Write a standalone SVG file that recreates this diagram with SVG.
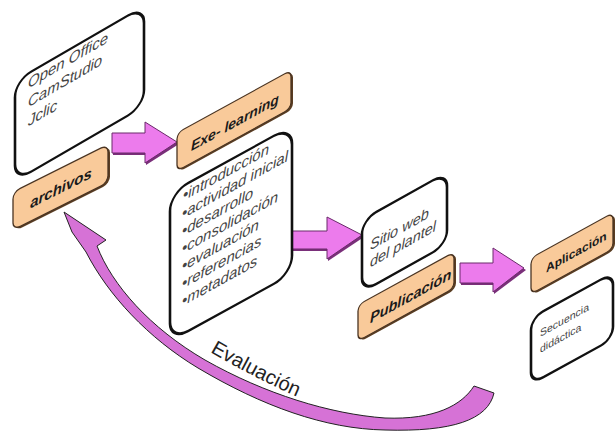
<svg xmlns="http://www.w3.org/2000/svg" width="615" height="441" viewBox="0 0 615 441">
<style>
.wbox{fill:#fff;stroke:#111;stroke-width:2.6}
.obox{fill:#F9CA9A;stroke:#4a3422;stroke-width:1.3}
.oshadow{fill:#5a3d22}
.gt{font-family:"Liberation Sans",Arial,sans-serif;font-style:italic;fill:#444}
.lt{font-family:"Liberation Sans",Arial,sans-serif;font-style:italic;font-weight:bold;fill:#1a1a1a}
.arrow{fill:#EC7BEC;stroke:#6a2a6a;stroke-width:1}
.ashadow{fill:#7a2f7a}
</style>
<defs>
<clipPath id="cbClip"><rect x="0" y="0" width="122" height="148" rx="18"/></clipPath>
</defs>

<g id="connectors">
<polygon class="ashadow" points="113,135 146,135 146,124 179,144 146,165 146,155 113,155"/>
<polygon class="arrow" points="112,133 145,133 145,122 177,142 145,163 145,153 112,153"/>
<polygon class="ashadow" points="293,233 328,233 328,219 364,237 328,261 328,251 293,251"/>
<polygon class="arrow" points="292,231 327,231 327,217 362,235 327,259 327,249 292,249"/>
<polygon class="ashadow" points="461,265 494,265 494,250 526,270 494,294 494,285 461,285"/>
<polygon class="arrow" points="460,263 493,263 493,248 524,268 493,292 493,283 460,283"/>
<path id="evalArrow" d="M64 212 L106 240 L97 246 C112 285 150 328 205 360 C265 394 330 414 385 418 C435 420 462 405 474 386 L494 393 C488 420 452 432 385 430 C325 429 262 406 198 368 C148 338 108 295 86 252 L72 232 Z" fill="#D672D6" stroke="#222" stroke-width="1"/>
<path id="evalPath" d="M210 352 C245 372 282 392 325 408" fill="none"/>
<text font-family="Liberation Sans, Arial, sans-serif" font-size="20" fill="#222"><textPath href="#evalPath">Evaluación</textPath></text>
</g>

<g id="tools" transform="matrix(1,-0.58,0,1,15,81)">
<rect class="wbox" x="0" y="0" width="129" height="100" rx="16"/>
<text class="gt" font-size="15" x="13" y="15">Open Office</text>
<text class="gt" font-size="15" x="13" y="34">CamStudio</text>
<text class="gt" font-size="15" x="13" y="53">Jclic</text>
</g>

<g id="archivos" transform="matrix(1,-0.5,0,1,13,192)">
<rect class="oshadow" x="2" y="2" width="95" height="38" rx="7"/>
<rect class="obox" x="0" y="0" width="95" height="38" rx="7"/>
<text class="lt" font-size="15" x="48" y="25" text-anchor="middle">archivos</text>
</g>

<g id="exe-learning" transform="matrix(1,-0.55,0,1,177,133)">
<rect class="oshadow" x="2" y="2" width="114" height="38" rx="6"/>
<rect class="obox" x="0" y="0" width="114" height="38" rx="6"/>
<text class="lt" font-size="14" x="14" y="26">Exe- learning</text>
</g>

<g id="contenido" transform="matrix(1,-0.55,0,1,170,193)">
<rect class="wbox" x="0" y="0" width="122" height="148" rx="18"/>
<g clip-path="url(#cbClip)" class="gt" font-size="15">
<text x="13" y="15">•introducción</text>
<text x="12" y="32.5">•actividad inicial</text>
<text x="12" y="50">•desarrollo</text>
<text x="12" y="67.5">•consolidación</text>
<text x="12" y="85">•evaluación</text>
<text x="12" y="102.5">•referencias</text>
<text x="12" y="120">•metadatos</text>
</g>
</g>

<g id="sitio-web" transform="matrix(1,-0.56,0,1,362,220)">
<rect class="wbox" x="0" y="0" width="85" height="72" rx="14"/>
<text class="gt" font-size="14.5" x="8" y="35">Sitio web</text>
<text class="gt" font-size="14.5" x="8" y="52">del plantel</text>
</g>

<g id="publicacion" transform="matrix(1,-0.55,0,1,358,305)">
<rect class="oshadow" x="2" y="2" width="96" height="36" rx="6"/>
<rect class="obox" x="0" y="0" width="96" height="36" rx="6"/>
<text class="lt" font-size="14.5" x="12" y="25">Publicación</text>
</g>

<g id="aplicacion" transform="matrix(1,-0.55,0,1,531,258)">
<rect class="oshadow" x="2" y="2" width="82" height="36" rx="6"/>
<rect class="obox" x="0" y="0" width="82" height="36" rx="6"/>
<text font-family="Liberation Sans, Arial, sans-serif" font-weight="bold" font-size="12" fill="#1a1a1a" x="15" y="23">Aplicación</text>
</g>

<g id="secuencia" transform="matrix(1,-0.55,0,1,531,318)">
<rect class="wbox" x="0" y="0" width="82" height="66" rx="12"/>
<text font-family="Liberation Sans, Arial, sans-serif" font-size="10.5" fill="#444" x="9" y="24">Secuencia</text>
<text font-family="Liberation Sans, Arial, sans-serif" font-size="10.5" fill="#444" x="9" y="40">didáctica</text>
</g>
</svg>
